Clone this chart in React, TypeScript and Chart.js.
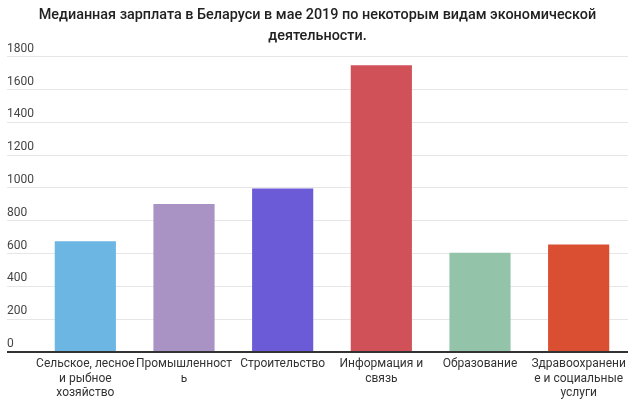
import { useEffect, useRef } from "react";
import Chart from "chart.js/auto";

const TITLE = [
  "Медианная зарплата в Беларуси в мае 2019 по некоторым видам экономической",
  "деятельности.",
];

const CATEGORIES = [
  ["Сельское, лесное", "и рыбное", "хозяйство"],
  ["Промышленност", "ь"],
  ["Строительство"],
  ["Информация и", "связь"],
  ["Образование"],
  ["Здравоохранени", "е и социальные", "услуги"],
];

const SALARY = [675, 903, 997, 1748, 605, 655];

const BAR_COLORS = ["#6cb6e3", "#a893c4", "#6c5bd7", "#d15159", "#93c3a9", "#da4e31"];

const Y_MAX = 1800;
const Y_STEP = 200;

const App = () => {
  const chartRef = useRef<HTMLCanvasElement>(null);

  useEffect(() => {
    document.body.style.margin = "0";
    const ctx = chartRef.current?.getContext("2d");
    if (!ctx) return;

    const chart = new Chart(ctx, {
      type: "bar",
      data: {
        labels: CATEGORIES,
        datasets: [
          {
            data: SALARY,
            backgroundColor: BAR_COLORS,
            borderWidth: 0,
            barPercentage: 0.62,
            categoryPercentage: 1,
          },
        ],
      },
      options: {
        animation: false,
        responsive: true,
        maintainAspectRatio: false,
        layout: { padding: { left: 7, right: 12, top: 0, bottom: 1 } },
        plugins: {
          legend: { display: false },
          tooltip: { enabled: false },
          title: {
            display: true,
            text: TITLE,
            color: "#212121",
            font: { family: "Roboto", size: 14.4, weight: 500, lineHeight: "21px" },
            padding: { top: 4.5, bottom: 10.2 },
          },
        },
        scales: {
          x: {
            grid: { display: false, drawTicks: false },
            border: { display: false },
            ticks: {
              color: "#333",
              font: { family: "Roboto", size: 12, lineHeight: "14.3px" },
              padding: 5,
              maxRotation: 0,
              autoSkip: false,
            },
          },
          y: {
            min: 0,
            max: Y_MAX,
            border: { display: false },
            grid: {
              color: (c) => (c.tick && c.tick.value === 0 ? "#333" : "#e6e6e6"),
              tickColor: (c) => (c.tick && c.tick.value === 0 ? "#333" : "#e6e6e6"),
              lineWidth: (c) => (c.tick && c.tick.value === 0 ? 2 : 1),
              tickLength: 29,
            },
            afterFit: (scale) => {
              scale.width = 29;
            },
            ticks: {
              stepSize: Y_STEP,
              mirror: true,
              padding: -29,
              labelOffset: -8,
              color: "#444",
              font: { family: "Roboto", size: 12 },
              callback: (value) => String(value),
            },
          },
        },
      },
    });

    return () => {
      chart.destroy();
    };
  }, []);

  return (
    <div style={{ width: 640, height: 406, position: "relative" }}>
      <canvas ref={chartRef} />
    </div>
  );
};

export default App;
